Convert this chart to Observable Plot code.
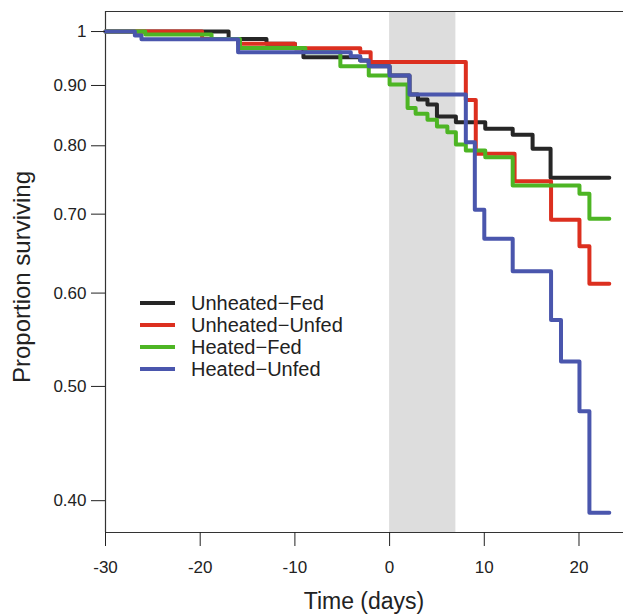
<!DOCTYPE html>
<html>
<head>
<meta charset="utf-8">
<script src="https://cdn.jsdelivr.net/npm/d3@7"></script>
<script src="https://cdn.jsdelivr.net/npm/@observablehq/plot@0.6"></script>
<style>
  html, body { margin: 0; padding: 0; background: #fff; }
  #wrap { position: relative; width: 623px; height: 615px; overflow: hidden;
          font-family: "Liberation Sans", Arial, Helvetica, sans-serif; color: #222; }
  #wrap svg { position: absolute; left: 0; top: 0; }
  .title { position: absolute; white-space: nowrap; line-height: 1; }
  #xlab { left: 364px; top: 601px; font-size: 23px; transform: translate(-50%, -50%); }
  #ylab { left: 22px; top: 277px; font-size: 24px; transform: translate(-50%, -50%) rotate(-90deg); }
  #legend { position: absolute; left: 140px; top: 292px; }
  .lrow { display: flex; align-items: center; height: 22px; }
  .sw { width: 35px; height: 4px; margin-right: 16px; }
  .lt { font-size: 20px; line-height: 1; }
</style>
</head>
<body>
<div id="wrap"></div>
<script>
// ---- data ----
const groups = ["Unheated−Fed", "Unheated−Unfed", "Heated−Fed", "Heated−Unfed"];
const colors = ["#262626", "#dc2f1f", "#4db524", "#4a56ad"];

const unheatedFedTime = [-30, -17, -13, -10, -9.1, -3.1, -2.2, 0, 2.1, 3, 4, 5, 7, 10.1, 13, 15.1, 17, 23.2];
const unheatedFedSurv = [1, 0.9855, 0.9763, 0.9679, 0.951, 0.9449, 0.9345, 0.9176, 0.8842, 0.8756, 0.8671, 0.847, 0.8377, 0.827, 0.8173, 0.7952, 0.7515, 0.7515];

const unheatedUnfedTime = [-30, -19.8, -16, -10, -3.1, -2, 8.05, 9.1, 13.2, 17.05, 20.05, 21.1, 23.2];
const unheatedUnfedSurv = [1, 0.9855, 0.9763, 0.9679, 0.9604, 0.9422, 0.875, 0.7875, 0.7465, 0.6923, 0.6575, 0.6109, 0.6109];

const heatedFedTime = [-30, -25.8, -18.8, -15.8, -8.9, -5.2, -2.2, 0, 1.9, 2.75, 4, 5, 6.1, 7, 8.05, 10.1, 13, 20.05, 21.1, 23.2];
const heatedFedSurv = [1, 0.994, 0.9855, 0.9683, 0.9604, 0.9345, 0.9176, 0.9017, 0.8612, 0.8515, 0.8416, 0.8306, 0.8215, 0.802, 0.7926, 0.7823, 0.7402, 0.7284, 0.6936, 0.6936];

const heatedUnfedTime = [-30, -26.9, -26.2, -16, -4.1, -3.1, -2.2, 0, 2.1, 8.05, 9, 10, 13, 17.05, 18.1, 20.05, 21.1, 23.2];
const heatedUnfedSurv = [1, 0.9922, 0.9851, 0.9604, 0.9529, 0.9449, 0.9345, 0.9176, 0.8842, 0.8056, 0.706, 0.6671, 0.6261, 0.5694, 0.5249, 0.4763, 0.3906, 0.3906];

const bandStart = [0];
const bandEnd = [7];

const xTicks = [-30, -20, -10, 0, 10, 20];
const yTicks = [1, 0.9, 0.8, 0.7, 0.6, 0.5, 0.4];
const yTickLabels = ["1", "0.90", "0.80", "0.70", "0.60", "0.50", "0.40"];
const xDomain = [-30, 24.7];
const yDomain = [0.3759, 1.0399];
const xLabel = "Time (days)";
const yLabel = "Proportion surviving";

// ---- build table ----
const seriesTimes = [unheatedFedTime, unheatedUnfedTime, heatedFedTime, heatedUnfedTime];
const seriesSurv = [unheatedFedSurv, unheatedUnfedSurv, heatedFedSurv, heatedUnfedSurv];
const rows = [];
groups.forEach((g, i) => {
  seriesTimes[i].forEach((t, j) => rows.push({group: g, time: t, surv: seriesSurv[i][j]}));
});
const bands = bandStart.map((s, i) => ({s, e: bandEnd[i]}));

const plot = Plot.plot({
  width: 623,
  height: 615,
  marginLeft: 105,
  marginRight: 0,
  marginTop: 11,
  marginBottom: 83,
  style: {fontFamily: '"Liberation Sans", Arial, Helvetica, sans-serif', fontSize: "17px", color: "#222", background: "transparent"},
  x: {domain: xDomain, label: null},
  y: {type: "log", domain: yDomain, label: null},
  color: {domain: groups, range: colors},
  marks: [
    Plot.rect(bands, {x1: "s", x2: "e", fill: "#dddddd"}),
    Plot.ruleX([xDomain[0]], {stroke: "#333", strokeWidth: 1.2}),
    Plot.ruleY([yDomain[0], yDomain[1]], {stroke: "#333", strokeWidth: 1.2}),
    Plot.line(rows, {x: "time", y: "surv", z: "group", stroke: "group", curve: "step-after", strokeWidth: 4}),
    Plot.axisX({ticks: xTicks, tickSize: 14, tickPadding: 14, label: null, tickFormat: d => String(d)}),
    Plot.axisY({ticks: yTicks, tickSize: 14, tickPadding: 5, label: null, tickFormat: d => yTickLabels[yTicks.indexOf(d)]})
  ]
});

const wrap = document.getElementById("wrap");
wrap.appendChild(plot);

const xl = document.createElement("div");
xl.className = "title"; xl.id = "xlab"; xl.textContent = xLabel;
wrap.appendChild(xl);
const yl = document.createElement("div");
yl.className = "title"; yl.id = "ylab"; yl.textContent = yLabel;
wrap.appendChild(yl);

const leg = document.createElement("div");
leg.id = "legend";
groups.forEach((g, i) => {
  const r = document.createElement("div"); r.className = "lrow";
  const sw = document.createElement("div"); sw.className = "sw"; sw.style.background = colors[i];
  const t = document.createElement("div"); t.className = "lt"; t.textContent = g;
  r.appendChild(sw); r.appendChild(t); leg.appendChild(r);
});
wrap.appendChild(leg);
</script>
</body>
</html>
